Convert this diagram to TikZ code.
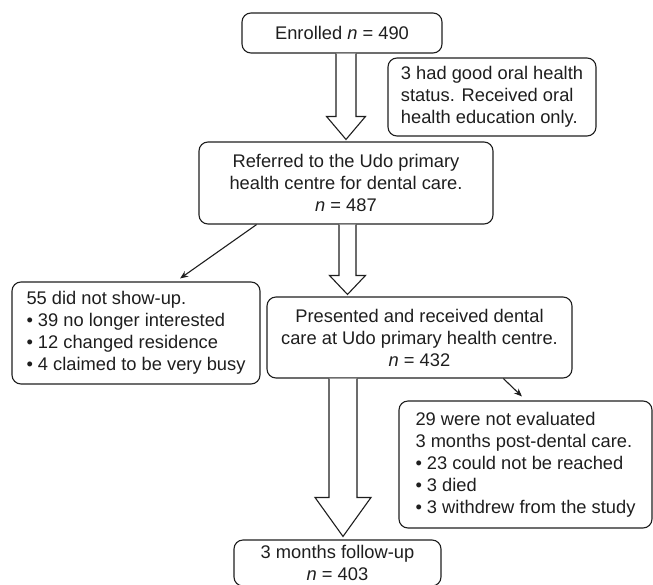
\documentclass[tikz,border=0pt]{standalone}
\usepackage{fontspec}
\setmainfont{Liberation Sans}
\usetikzlibrary{calc,arrows.meta}
\definecolor{ink}{HTML}{1E1E1E}
\newcommand\fatarrow[5]{%
  \draw[blockarr] let \p1=(#1), \p2=(#2) in
    (\x2-#3pt,\y1) -- (\x2-#3pt,\y2+#5pt) -- (\x2-#4pt,\y2+#5pt) -- (\x2,\y2)
    -- (\x2+#4pt,\y2+#5pt) -- (\x2+#3pt,\y2+#5pt) -- (\x2+#3pt,\y1);}
\begin{document}
\begin{tikzpicture}[x=1pt,y=-1pt,
  box/.style={draw=ink,line width=1.1pt,rounded corners=9pt,
    font=\fontsize{18.3}{22}\selectfont,text=ink,inner sep=0pt,anchor=center},
  blockarr/.style={draw=ink,fill=white,line width=1.1pt,line join=miter},
  thinarr/.style={draw=ink,line width=1.1pt,-{Stealth[length=8pt,width=6.5pt]}}]
\useasboundingbox (0,0) rectangle (653,584);
\node[box,minimum width=200pt,minimum height=40pt] (enrolled) at (342,33) {Enrolled \textit{n} = 490};
\node[box,minimum width=208pt,minimum height=78pt,align=left] (side) at (492,97)
  {3 had good oral health\\status. Received oral\\health education only.};
\node[box,minimum width=294pt,minimum height=82pt,align=center] (referred) at (346,183)
  {Referred to the Udo primary\\health centre for dental care.\\\textit{n} = 487};
\node[box,minimum width=248pt,minimum height=102pt,align=left] (noshow) at (136,333)
  {55 did not show-up.\\• 39 no longer interested\\• 12 changed residence\\• 4 claimed to be very busy};
\node[box,minimum width=305pt,minimum height=81pt,align=center] (presented) at (419.5,337.5)
  {Presented and received dental\\care at Udo primary health centre.\\\textit{n} = 432};
\node[box,minimum width=253pt,minimum height=127pt,align=left] (noteval) at (525.5,464.5)
  {29 were not evaluated\\3 months post-dental care.\\• 23 could not be reached\\• 3 died\\• 3 withdrew from the study};
\node[box,minimum width=207pt,minimum height=46pt,align=center] (followup) at (337.5,563)
  {3 months follow-up\\\textit{n} = 403};
% block arrows
\fatarrow{referred.north |- enrolled.south}{$(referred.north)+(0,-2)$}{10}{19.5}{23}
\fatarrow{referred.south}{$(referred.south |- presented.north)+(1.5,-2)$}{8.5}{18}{19}
\fatarrow{$(followup.north |- presented.south)+(5.5,0)$}{$(followup.north)+(5.5,-3)$}{14}{28}{39}
% thin arrows
\draw[thinarr] ($(referred.south west)!0.197!(referred.south east)$) -- ($(noshow.north west)!0.677!(noshow.north east)+(0,-3)$);
\draw[thinarr] ($(presented.south west)!0.774!(presented.south east)$) -- ($(noteval.north west)!0.486!(noteval.north east)+(0,-4)$);
\end{tikzpicture}
\end{document}
